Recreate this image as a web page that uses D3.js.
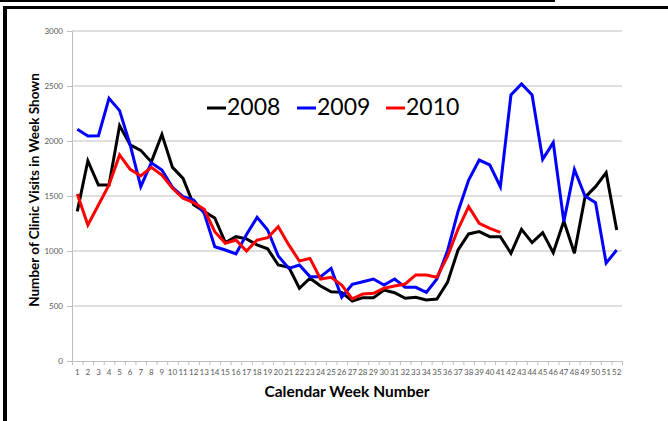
<html>
<script src="https://d3js.org/d3.v7.min.js"></script>
<style>
  body { margin: 0; background: #fff; }
  text { font-family: Lato, "Open Sans", sans-serif; }
</style>
<body>
<svg width="668" height="421"></svg>
<script>
// weeks on the x axis
const weeks = d3.range(1, 53);
const yTicks = [0, 500, 1000, 1500, 2000, 2500, 3000];

// clinic visits per week
const visits2008 = [1360, 1820, 1600, 1600, 2140, 1965, 1915, 1810, 2060, 1760,
  1660, 1420, 1360, 1300, 1076, 1130, 1110, 1055, 1020, 873, 852, 661, 752, 682,
  630, 624, 545, 576, 576, 645, 621, 570, 579, 555, 564, 715, 1009, 1155, 1176,
  1130, 1130, 979, 1197, 1076, 1167, 985, 1273, 979, 1488, 1585, 1712, 1191];
const visits2009 = [2106, 2045, 2048, 2388, 2276, 1964, 1585, 1803, 1736, 1579,
  1494, 1464, 1342, 1039, 1009, 973, 1150, 1306, 1191, 955, 842, 873, 767, 767,
  842, 579, 697, 721, 745, 691, 745, 670, 670, 624, 745, 1000, 1360, 1645, 1827,
  1782, 1585, 2418, 2518, 2418, 1833, 1985, 1267, 1742, 1500, 1439, 890, 1009];
const visits2010 = [1518, 1236, 1418, 1600, 1873, 1742, 1682, 1761, 1691, 1570,
  1479, 1439, 1379, 1176, 1070, 1100, 1000, 1100, 1121, 1221, 1055, 909, 933, 745,
  761, 691, 564, 609, 615, 661, 682, 700, 782, 782, 761, 950, 1200, 1403, 1252,
  1206, 1170];

const seriesNames = ["2008", "2009", "2010"];
const seriesColors = ["#000000", "#0000ff", "#ff0000"];
const seriesValues = [visits2008, visits2009, visits2010];

const svg = d3.select("svg");

// frame bits around the pasted chart
svg.append("rect").attr("x", 0).attr("y", 0).attr("width", 555).attr("height", 2).attr("fill", "#000");
svg.append("rect").attr("x", 3).attr("y", 6).attr("width", 665).attr("height", 3).attr("fill", "#000");
svg.append("rect").attr("x", 3).attr("y", 6).attr("width", 4).attr("height", 415).attr("fill", "#000");

const plotL = 72, plotR = 622, plotT = 31, plotB = 361;
const x = d3.scaleBand().domain(weeks).range([plotL, plotR]).padding(0);
const xEdge = d3.scaleLinear().domain([0, 52]).range([plotL, plotR]);
const y = d3.scaleLinear().domain([0, 3000]).range([plotB, plotT]);

// gridlines
svg.append("g").selectAll("line").data(yTicks.filter(d => d > 0)).enter().append("line")
  .attr("x1", plotL).attr("x2", plotR)
  .attr("y1", d => y(d)).attr("y2", d => y(d))
  .attr("stroke", "#bfbfbf").attr("stroke-width", 1);

// y axis
const yAxis = svg.append("g").attr("transform", "translate(" + plotL + ",0)")
  .call(d3.axisLeft(y).tickValues(yTicks).tickFormat(d3.format("d")).tickSize(5).tickPadding(4));
yAxis.select(".domain").attr("stroke", "#bfbfbf");
yAxis.selectAll(".tick line").attr("stroke", "#bfbfbf");
yAxis.selectAll("text").attr("fill", "#595959").style("font-size", "8px");

// x axis: tick marks between categories, labels at centres
const xTickAxis = svg.append("g").attr("transform", "translate(0," + plotB + ")")
  .call(d3.axisBottom(xEdge).tickValues(d3.range(53)).tickSize(4).tickFormat(""));
xTickAxis.select(".domain").attr("stroke", "#bfbfbf");
xTickAxis.selectAll(".tick line").attr("stroke", "#bfbfbf");

const xAxis = svg.append("g").attr("transform", "translate(0," + plotB + ")")
  .call(d3.axisBottom(x).tickSize(0).tickPadding(8));
xAxis.select(".domain").remove();
xAxis.selectAll("text").attr("fill", "#595959").style("font-size", "8px");

// lines
const line = d3.line().x((d, i) => x(weeks[i]) + x.bandwidth() / 2).y(d => y(d));
seriesValues.forEach((vals, k) => {
  svg.append("path").datum(vals)
    .attr("d", line)
    .attr("fill", "none")
    .attr("stroke", seriesColors[k])
    .attr("stroke-width", 3)
    .attr("stroke-linejoin", "miter");
});

// legend
const legendX = [207, 297, 386];
seriesNames.forEach((name, k) => {
  svg.append("line")
    .attr("x1", legendX[k]).attr("x2", legendX[k] + 19)
    .attr("y1", 108).attr("y2", 108)
    .attr("stroke", seriesColors[k]).attr("stroke-width", 3);
  svg.append("text")
    .attr("x", legendX[k] + 20).attr("y", 115)
    .attr("fill", "#000")
    .style("font-size", "23px")
    .text(name);
});

// axis titles
svg.append("text")
  .attr("x", 347).attr("y", 397)
  .attr("text-anchor", "middle")
  .style("font-size", "15.5px").style("font-weight", "bold")
  .text("Calendar Week Number");
svg.append("text")
  .attr("transform", "translate(39,190) rotate(-90)")
  .attr("text-anchor", "middle")
  .style("font-size", "13.5px").style("font-weight", "bold")
  .text("Number of Clinic Visits in Week Shown");
</script>
</body>
</html>
